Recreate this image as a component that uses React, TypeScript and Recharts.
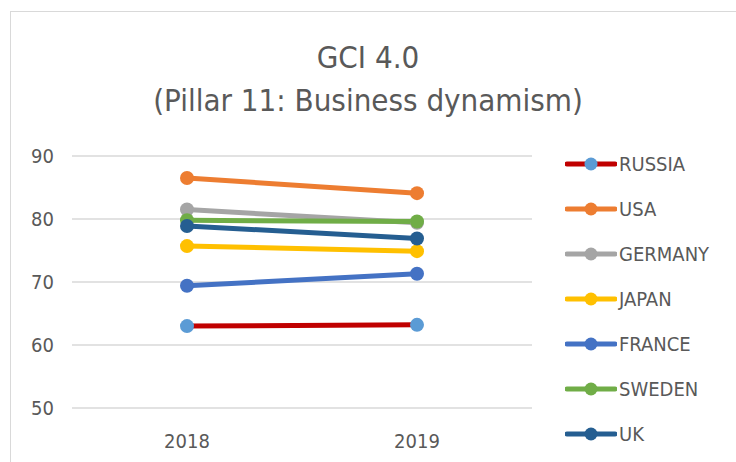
import { LineChart, Line, XAxis, YAxis, CartesianGrid } from 'recharts';

const years = ['2018', '2019'];
const russia = [63.0, 63.2];
const usa = [86.5, 84.1];
const germany = [81.5, 79.4];
const japan = [75.7, 74.9];
const france = [69.4, 71.3];
const sweden = [79.8, 79.6];
const uk = [78.9, 76.9];
const yTicks = [50, 60, 70, 80, 90];

const FONT = "'Liberation Sans Narrow', 'DejaVu Sans Condensed', 'Open Sans', sans-serif";

const series = [
  { key: 'RUSSIA', values: russia, color: '#c00000', dot: '#5b9bd5' },
  { key: 'USA', values: usa, color: '#ed7d31', dot: '#ed7d31' },
  { key: 'GERMANY', values: germany, color: '#a5a5a5', dot: '#a5a5a5' },
  { key: 'JAPAN', values: japan, color: '#ffc000', dot: '#ffc000' },
  { key: 'FRANCE', values: france, color: '#4472c4', dot: '#4472c4' },
  { key: 'SWEDEN', values: sweden, color: '#70ad47', dot: '#70ad47' },
  { key: 'UK', values: uk, color: '#255e91', dot: '#255e91' },
];

const data = years.map((year, i) => {
  const row: Record<string, string | number> = { year };
  series.forEach((s) => {
    row[s.key] = s.values[i];
  });
  return row;
});

const ChartLegend = () => (
  <div style={{ position: 'absolute', left: 565, top: 141, fontFamily: FONT, fontSize: 20, color: '#595959' }}>
    {series.map((s) => (
      <div key={s.key} style={{ display: 'flex', alignItems: 'center', height: 45 }}>
        <svg width={52} height={16} style={{ marginRight: 2 }}>
          <line x1={2} y1={8} x2={50} y2={8} stroke={s.color} strokeWidth={5} strokeLinecap="round" />
          <circle cx={26} cy={8} r={6.5} fill={s.dot} />
        </svg>
        <span>{s.key}</span>
      </div>
    ))}
  </div>
);

const App = () => {
  return (
    <div style={{ position: 'absolute', left: 0, top: 0, width: 736, height: 462, overflow: 'hidden', background: '#fff' }}>
      <div style={{ position: 'absolute', left: 10, top: 11, width: 800, height: 500, border: '1.5px solid #d9d9d9' }} />
      <div style={{ position: 'absolute', left: 0, top: 0, width: 736, textAlign: 'center', fontFamily: FONT, fontSize: 31, color: '#595959', lineHeight: '43px', paddingTop: 36 }}>
        <div>GCI 4.0</div>
        <div>(Pillar 11: Business dynamism)</div>
      </div>
      <div style={{ position: 'absolute', left: 0, top: 0 }}>
        <LineChart width={736} height={462} data={data} margin={{ top: 156, right: 204, bottom: 24, left: 10 }}>
          <CartesianGrid vertical={false} stroke="#d9d9d9" strokeWidth={1.5} />
          <XAxis
            dataKey="year"
            axisLine={false}
            tickLine={false}
            height={30}
            padding={{ left: 115, right: 115 }}
            tickMargin={20}
            tick={{ fill: '#595959', fontSize: 20, fontFamily: FONT }}
          />
          <YAxis
            domain={[50, 90]}
            ticks={yTicks}
            axisLine={false}
            tickLine={false}
            width={62}
            tickMargin={12}
            tick={{ fill: '#595959', fontSize: 20, fontFamily: FONT }}
          />
          {series.map((s) => (
            <Line
              key={s.key}
              dataKey={s.key}
              stroke={s.color}
              strokeWidth={5}
              dot={{ r: 7, fill: s.dot, stroke: 'none' }}
              activeDot={false}
              isAnimationActive={false}
            />
          ))}
        </LineChart>
      </div>
      <ChartLegend />
    </div>
  );
};

export default App;
